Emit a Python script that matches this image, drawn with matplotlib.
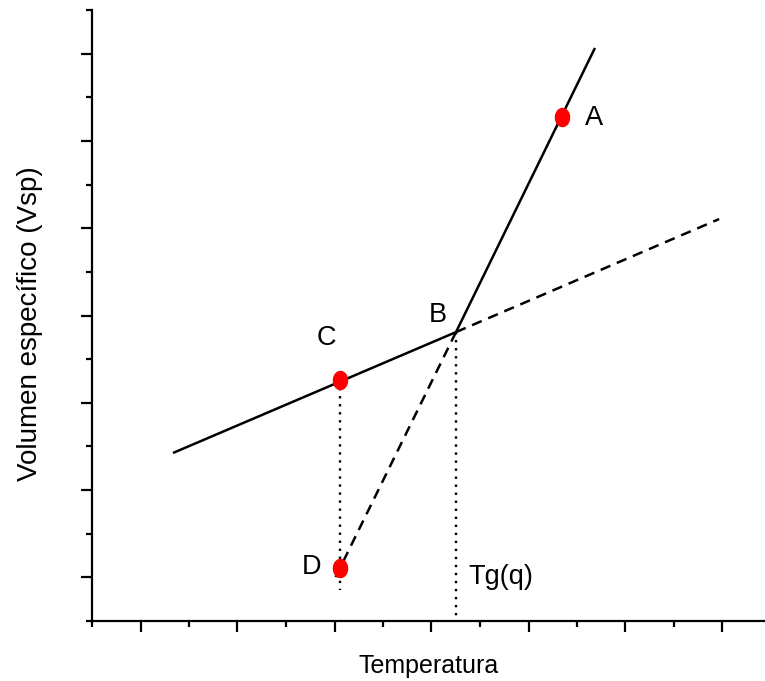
import numpy as np
import matplotlib
matplotlib.use("Agg")
import matplotlib.pyplot as plt
from matplotlib.path import Path
from matplotlib.ticker import FixedLocator

plt.rcParams['font.family'] = ['Liberation Sans', 'DejaVu Sans']

# Data (axis units)
liquid_x = [1.67, 7.505]          # solid line up to B
liquid_y = [3.85, 6.62]
glass_x = [7.505, 10.37]          # solid steep line from B
glass_y = [6.62, 13.13]
ext_up_x = [7.505, 12.93]         # dashed extension of the lower-slope line
ext_up_y = [6.62, 9.21]
ext_dn_x = [7.505, 4.97]          # dashed extension of the steep line
ext_dn_y = [6.62, 0.89]
vC_x = [5.11, 5.11]               # dotted vertical through C and D
vC_y = [5.52, 0.71]
vB_x = [7.505, 7.505]             # dotted vertical at Tg
vB_y = [6.62, 0.0]
pts_x = [9.69, 5.11, 5.11]        # A, C, D
pts_y = [11.55, 5.52, 1.21]
labels = ['A', 'B', 'C', 'D', 'Tg(q)']
lab_x = [10.35, 7.134, 4.825, 4.536, 7.77]
lab_y = [11.53, 7.00, 6.48, 1.24, 1.01]

fig = plt.figure(figsize=(7.65, 6.81), dpi=100)
ax = fig.add_axes([92/765, 60/681, 1 - 92/765, 611/681])
ax.set_xlim(0, 673/48.5)
ax.set_ylim(0, 14)

lw = 1.8
ax.plot(liquid_x, liquid_y, color='black', lw=lw, solid_capstyle='butt')
ax.plot(glass_x, glass_y, color='black', lw=lw, solid_capstyle='butt')
ax.plot(ext_up_x, ext_up_y, color='black', lw=lw, dashes=(4.2, 2.8))
ax.plot(ext_dn_x, ext_dn_y, color='black', lw=lw, dashes=(4.2, 2.8))
ax.plot(vC_x, vC_y, color='black', lw=1.7, dashes=(1.0, 2.4))
ax.plot(vB_x, vB_y, color='black', lw=1.7, dashes=(1.0, 2.4))

t = np.linspace(0, 2*np.pi, 60)
ell = Path(np.column_stack([0.78*np.cos(t), np.sin(t)]), closed=True)
ax.plot(pts_x, pts_y, linestyle='none', marker=ell, markersize=13,
        markerfacecolor='#ff0000', markeredgecolor='#ff0000', zorder=5)

for i, s in enumerate(labels):
    ha = 'left' if s.startswith('Tg') else 'center'
    ax.text(lab_x[i], lab_y[i], s, fontsize=19.5, ha=ha, va='center')

for side in ['top', 'right']:
    ax.spines[side].set_visible(False)
for side in ['left', 'bottom']:
    ax.spines[side].set_linewidth(1.6)

ax.xaxis.set_major_locator(FixedLocator([1, 3, 5, 7, 9, 11, 13]))
ax.xaxis.set_minor_locator(FixedLocator([0, 2, 4, 6, 8, 10, 12]))
ax.yaxis.set_major_locator(FixedLocator([1, 3, 5, 7, 9, 11, 13]))
ax.yaxis.set_minor_locator(FixedLocator([0, 2, 4, 6, 8, 10, 12, 14]))
ax.tick_params(which='major', direction='out', length=8, width=1.6,
               labelbottom=False, labelleft=False)
ax.tick_params(which='minor', direction='out', length=4.5, width=1.6)

ax.set_xlabel('Temperatura', fontsize=18, labelpad=16)
fig.text(30/765, 1 - 324/681, 'Volumen específico (Vsp)', fontsize=20,
         rotation=90, ha='center', va='center')

fig.savefig('out.png', dpi=100)
